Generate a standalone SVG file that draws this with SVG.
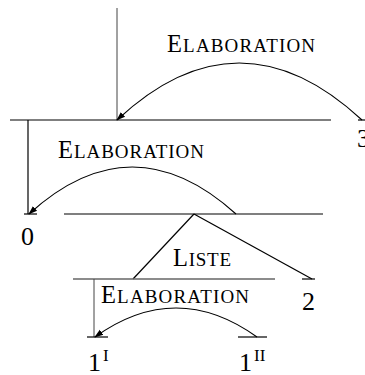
<svg xmlns="http://www.w3.org/2000/svg" width="365" height="375" viewBox="0 0 365 375">
<defs>
<style>
.ln{stroke:#000;stroke-width:1.2;fill:none}
.lt{stroke:#444;stroke-width:1;fill:none}
.arc{stroke:#000;stroke-width:1.1;fill:none;marker-end:url(#ah)}
.t{font-family:"Liberation Serif","Times New Roman",serif;fill:#000}
.cap{font-size:24.5px}
.sc{font-size:19px}
.num{font-size:26px}
.sup{font-size:17px}
</style>
<marker id="ah" viewBox="0 0 10 10" refX="9" refY="5" markerWidth="9" markerHeight="9" markerUnits="userSpaceOnUse" orient="auto">
<path d="M0,1.5 L10,5 L0,8.5 z" fill="#000"/>
</marker>
</defs>
<g id="structure">
<line class="lt" x1="117" y1="8" x2="117" y2="120"/>
<line class="ln" x1="10" y1="120" x2="331" y2="120"/>
<line class="ln" x1="28" y1="120" x2="28" y2="214"/>
<line class="ln" x1="64" y1="214" x2="323" y2="214"/>
<line class="ln" x1="194" y1="214" x2="133" y2="279"/>
<line class="ln" x1="194" y1="214" x2="312" y2="279"/>
<line class="lt" x1="73" y1="279" x2="275" y2="279" style="stroke:#666;stroke-width:1.4"/>
<line class="lt" x1="94" y1="279" x2="94" y2="337"/>
</g>
<g id="node-3">
<line class="ln" x1="358" y1="120" x2="365" y2="120"/>
<text class="t num" x="357" y="147">3</text>
</g>
<g id="node-0">
<line class="ln" x1="24" y1="214" x2="37" y2="214"/>
<text class="t num" x="21" y="245">0</text>
</g>
<g id="node-2">
<line class="ln" x1="302" y1="279" x2="315" y2="279"/>
<text class="t num" x="302" y="310">2</text>
</g>
<g id="node-1I">
<line class="ln" x1="87" y1="337" x2="108" y2="337"/>
<text class="t num" x="88" y="371">1<tspan class="sup" dx="2" dy="-10">I</tspan></text>
</g>
<g id="node-1II">
<line class="ln" x1="238" y1="337" x2="267" y2="337"/>
<text class="t num" x="239" y="371">1<tspan class="sup" dx="2" dy="-10">II</tspan></text>
</g>
<g id="connectors">
<path class="arc" d="M362,120 Q239,6 117,120"/>
<path class="arc" d="M236,214 Q132,120 29,214"/>
<path class="arc" d="M257,337 Q176,279 95,337"/>
</g>
<g id="labels">
<text class="t" x="167" y="52" textLength="148"><tspan class="cap">E</tspan><tspan class="sc">LABORATION</tspan></text>
<text class="t" x="58" y="158" textLength="146"><tspan class="cap">E</tspan><tspan class="sc">LABORATION</tspan></text>
<text class="t" x="101" y="303" textLength="148"><tspan class="cap">E</tspan><tspan class="sc">LABORATION</tspan></text>
<text class="t" x="173" y="266" textLength="58"><tspan class="cap">L</tspan><tspan class="sc">ISTE</tspan></text>
</g>
</svg>
